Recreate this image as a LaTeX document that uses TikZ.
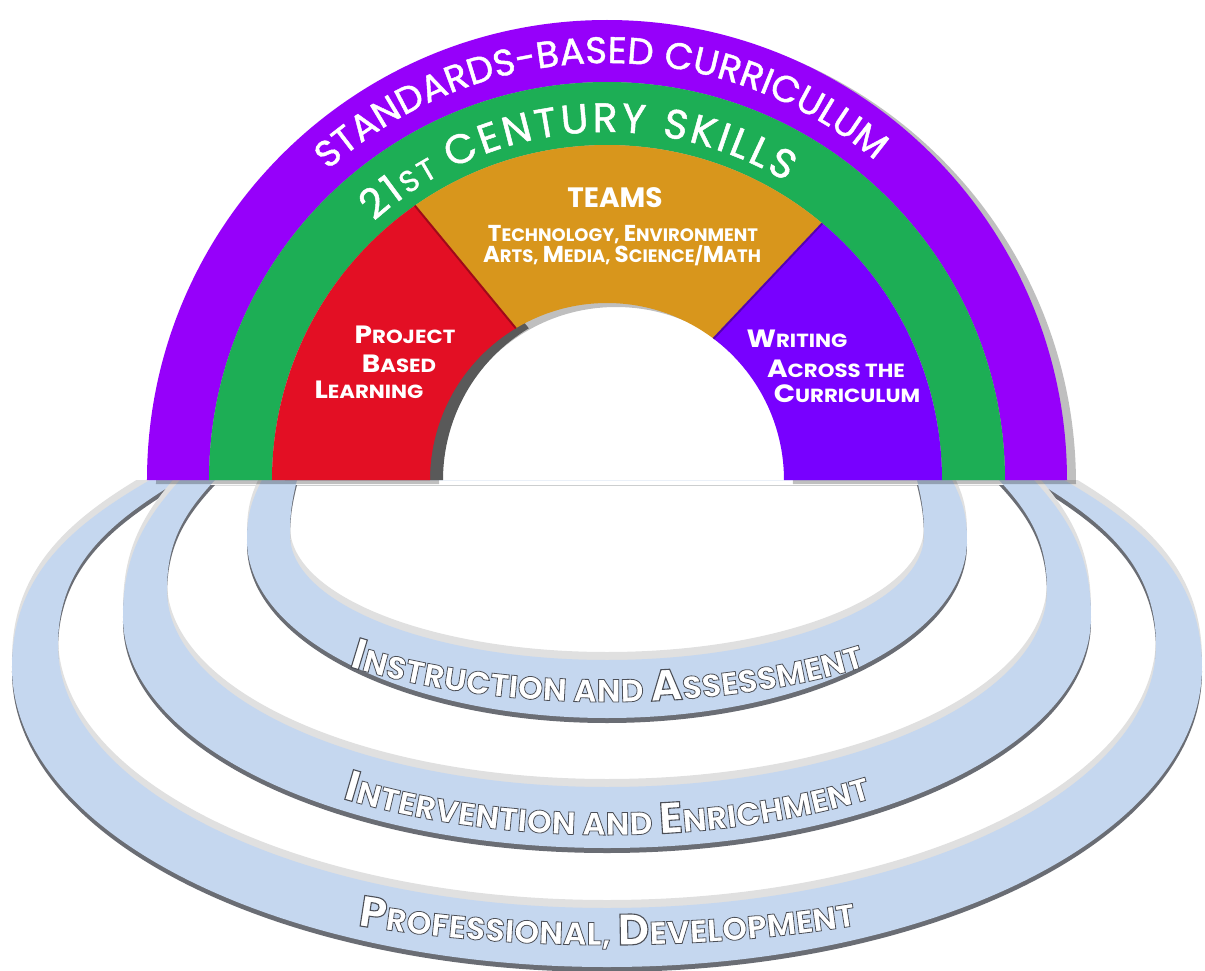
\documentclass[tikz,border=0pt]{standalone}
\usepackage{fontspec}
\setmainfont{Poppins}
\newfontfamily\ringfont{Poppins}[FakeBold=2.5]
\newfontfamily\archface{Poppins}[FakeBold=1.2]
\usetikzlibrary{decorations.text}

% colours
\definecolor{bandpurple}{HTML}{9600FA}
\definecolor{writepurple}{HTML}{7800FF}
\definecolor{bandgreen}{HTML}{1DAE55}
\definecolor{segred}{HTML}{E30F24}
\definecolor{segorange}{HTML}{D8961C}
\definecolor{ringblue}{HTML}{C5D7EF}
\definecolor{ringedge}{HTML}{6A6D74}

% fake small caps: big first letter, smaller rest
\newcommand\labelcaps[2]{{\fontsize{12.5}{15}\selectfont #1}{\fontsize{9.5}{15}\selectfont #2}}
\newcommand\teamcaps[2]{{\fontsize{11.5}{14}\selectfont #1}{\fontsize{9}{14}\selectfont #2}}
\newcommand\archfont{\archface\fontsize{18.5}{20}\selectfont}
\newcommand\skillfont{\archface\fontsize{20.5}{23}\selectfont}
\newcommand\skillsmall{\archface\fontsize{15}{17}\selectfont}
% ring letters: white fill, grey outline
\newcommand\ringstroke{\color{white}\special{pdf:code 0.30 0.31 0.34 RG}}
\newcommand\ringbig{\ringfont\bfseries\fontsize{22}{24}\selectfont\ringstroke}
\newcommand\ringsmall{\ringfont\bfseries\fontsize{16}{18}\selectfont\ringstroke}

\begin{document}
\begin{tikzpicture}[x=0.5pt, y=0.5pt,
    seglabel/.style={anchor=base, inner sep=0pt, text=white, font=\bfseries},
    widelabel/.style={seglabel, xscale=1.12}]
    \fill[white] (-607,-490) rectangle (598,480);
    \useasboundingbox (-607,-490) rectangle (598,480);

    % Rings (only the part under the arch base shows)
    \begin{scope}
        \clip (-607,0) rectangle (598,-490);
        \foreach \ax/\ar/\ac/\ad/\ao/\ai/\bx/\br/\bc/\bd/\bo/\bi in
            {457/595/-187/300/-150/-30/427/549/-165/263/-149/-31,
             427/484/-137/231/-132/-48/392/440/-110/197/-133/-47,
             345/360/-60/178/-117/-63/310/317/-55/125/-104/-76}
            \foreach \sh/\col in {8/black!12, -5/ringedge, 0/ringblue}
                \fill[\col, even odd rule, shift={(0,\sh)}]
                    (-\ax,0) to[out=\ao,in=90] (-\ar,\ac)
                    arc[start angle=180, end angle=360, x radius=\ar, y radius=\ad]
                    to[out=90,in=\ai] (\ax,0) -- cycle
                    (-\bx,0) to[out=\bo,in=90] (-\br,\bc)
                    arc[start angle=180, end angle=360, x radius=\br, y radius=\bd]
                    to[out=90,in=\bi] (\bx,0) -- cycle;
    \end{scope}

    % Arch shadow
    \fill[black, opacity=.25, shift={(9,-4)}]
        (0:460) arc[start angle=0, end angle=180, radius=460]
        -- (180:177) arc[start angle=180, end angle=0, radius=177] -- cycle;
    \fill[black!65, shift={(13,0)}]
        (180:335) arc[start angle=180, end angle=125, radius=335]
        -- (121:177) arc[start angle=121, end angle=180, radius=177] -- cycle;

    % Arch bands
    \fill[bandpurple] (0:460) arc[start angle=0, end angle=180, radius=460]
        -- (180:398) arc[start angle=180, end angle=0, radius=398] -- cycle;
    \fill[bandgreen] (0:398) arc[start angle=0, end angle=180, radius=398]
        -- (180:335) arc[start angle=180, end angle=0, radius=335] -- cycle;

    % Inner pieces
    \fill[segred] (180:335) arc[start angle=180, end angle=125, radius=335]
        -- (121:177) arc[start angle=121, end angle=180, radius=177] -- cycle;
    \fill[segorange] (125:335) arc[start angle=125, end angle=50, radius=335]
        -- (53:177) arc[start angle=53, end angle=121, radius=177] -- cycle;
    \fill[writepurple] (50:335) arc[start angle=50, end angle=0, radius=335]
        -- (0:177) arc[start angle=0, end angle=53, radius=177] -- cycle;
    \draw[segred!70!black, line width=1] (125:335) -- (121:177);
    \draw[writepurple!70!black, line width=1] (50:335) -- (53:177);

    % Band texts
    \path[decorate, decoration={text along path, text color=white, text align={fit to path},
        text={|\archfont|STANDARDS-BASED CURRICULUM}}]
        (132:417) arc[start angle=132, end angle=50, radius=417];
    \path[decorate, decoration={text along path, text color=white, text align={fit to path},
        text={|\skillfont|21|\skillsmall|ST |\skillfont|CENTURY SKILLS}}]
        (132:348) arc[start angle=132, end angle=59, radius=348];

    % Piece labels
    \node[seglabel] (teams) at (8,272) {\fontsize{14}{16}\selectfont TEAMS};
    \node[seglabel] (teams-1) at (16,238) {\teamcaps{T}{ECHNOLOGY,} \teamcaps{E}{NVIRONMENT}};
    \node[seglabel] (teams-2) at (15,218) {\teamcaps{A}{RTS,} \teamcaps{M}{EDIA,} \teamcaps{S}{CIENCE/}\teamcaps{M}{ATH}};
    \node[widelabel] (pbl-1) at (-202,137) {\labelcaps{P}{ROJECT}};
    \node[widelabel] (pbl-2) at (-208,108) {\labelcaps{B}{ASED}};
    \node[widelabel] (pbl-3) at (-238,82) {\labelcaps{L}{EARNING}};
    \node[widelabel] (wac-1) at (190,133) {\labelcaps{W}{RITING}};
    \node[widelabel] (wac-2) at (229,103) {\labelcaps{A}{CROSS THE}};
    \node[widelabel] (wac-3) at (240,78) {\labelcaps{C}{URRICULUM}};

    % Ring texts
    \path[decorate, decoration={text along path, text color=white, text align=center,
        text={|\ringbig|I|\ringsmall|NSTRUCTION AND |\ringbig|A|\ringsmall|SSESSMENT}}]
        (0,-72) ++(200:400 and 150)
        arc[start angle=200, end angle=340, x radius=400, y radius=150];
    \path[decorate, decoration={text along path, text color=white, text align=center,
        text={|\ringbig|I|\ringsmall|NTERVENTION AND |\ringbig|E|\ringsmall|NRICHMENT}}]
        (0,-145) ++(200:470 and 210)
        arc[start angle=200, end angle=340, x radius=470, y radius=210];
    \path[decorate, decoration={text along path, text color=white, text align=center,
        text={|\ringbig|P|\ringsmall|ROFESSIONAL, |\ringbig|D|\ringsmall|EVELOPMENT}}]
        (0,-250) ++(200:600 and 215)
        arc[start angle=200, end angle=340, x radius=600, y radius=215];
\end{tikzpicture}
\end{document}
